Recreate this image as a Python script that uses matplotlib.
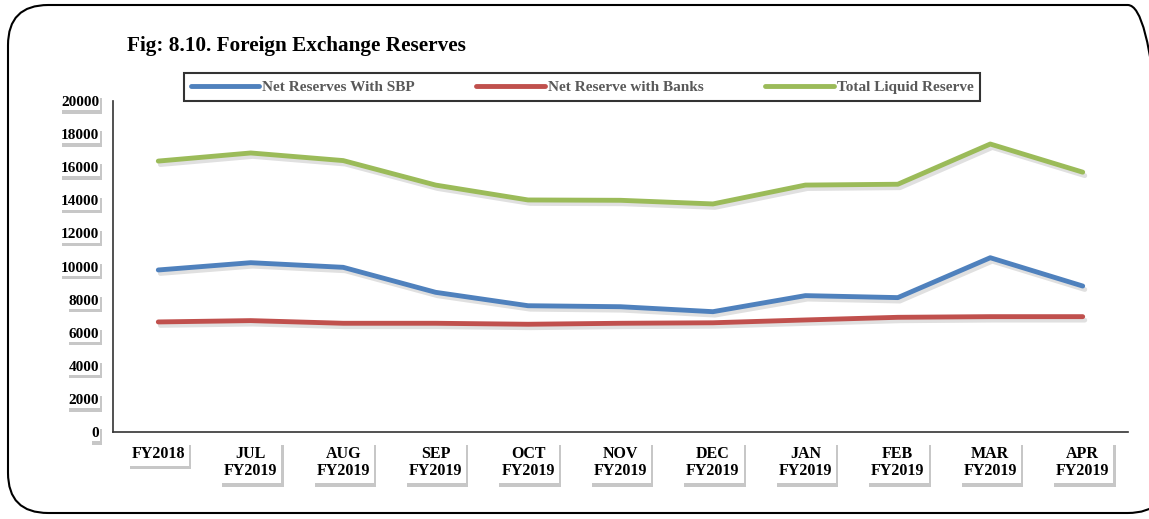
import matplotlib.pyplot as plt
import matplotlib.patheffects as pe
from matplotlib.patches import FancyBboxPatch

# Data (USD million)
months = ['FY2018', 'JUL\nFY2019', 'AUG\nFY2019', 'SEP\nFY2019', 'OCT\nFY2019', 'NOV\nFY2019',
          'DEC\nFY2019', 'JAN\nFY2019', 'FEB\nFY2019', 'MAR\nFY2019', 'APR\nFY2019']
net_sbp = [9790, 10230, 9950, 8440, 7630, 7570, 7270, 8240, 8120, 10530, 8820]
net_banks = [6650, 6730, 6570, 6570, 6510, 6570, 6600, 6770, 6930, 6970, 6970]
total_liquid = [16370, 16860, 16400, 14920, 14020, 14000, 13780, 14920, 14970, 17400, 15700]

plt.rcParams['font.family'] = ['Liberation Serif', 'DejaVu Serif']

fig = plt.figure(figsize=(11.49, 5.19), dpi=100)

# rounded outer frame
frame = FancyBboxPatch((8 / 1149, 6 / 519), 1160 / 1149, 508 / 519,
                       boxstyle='round,pad=0,rounding_size=0.035',
                       transform=fig.transFigure, fill=False, edgecolor='black',
                       linewidth=1.5, mutation_aspect=1149 / 519)
fig.patches.append(frame)

ax = fig.add_axes([113 / 1149, 1 - 432 / 519, (1128 - 113) / 1149, (432 - 101) / 519])

x = range(len(months))
shadow = [pe.SimpleLineShadow(offset=(1.5, -2.5), shadow_color='black', alpha=0.12), pe.Normal()]
ax.plot(x, net_sbp, color='#4f81bd', lw=3.5, solid_capstyle='round', label='Net Reserves With SBP',
        path_effects=shadow)
ax.plot(x, net_banks, color='#c0504d', lw=3.5, solid_capstyle='round', label='Net Reserve with Banks',
        path_effects=shadow)
ax.plot(x, total_liquid, color='#9bbb59', lw=3.5, solid_capstyle='round', label='Total Liquid Reserve',
        path_effects=shadow)

ax.set_xlim(-0.49, 10.49)
ax.set_ylim(0, 20000)
ax.set_yticks(range(0, 20001, 2000))
ax.set_xticks(list(x))
ax.set_xticklabels(months, fontsize=11.5, fontweight='bold', linespacing=1.1)
ax.tick_params(axis='both', length=0)
ax.tick_params(axis='x', pad=10)
ax.tick_params(axis='y', pad=10)

box_shadow = [pe.withSimplePatchShadow(offset=(1.5, -2.5), shadow_rgbFace='black', alpha=0.22)]
for lab in ax.get_yticklabels():
    lab.set_fontsize(11)
    lab.set_fontweight('bold')
    lab.set_bbox(dict(boxstyle='square,pad=0.08', facecolor='white', edgecolor='none'))
    lab.get_bbox_patch().set_path_effects(box_shadow)
for lab in ax.get_xticklabels():
    lab.set_bbox(dict(boxstyle='square,pad=0.25', facecolor='white', edgecolor='none'))
    lab.get_bbox_patch().set_path_effects(box_shadow)

for side in ['top', 'right']:
    ax.spines[side].set_visible(False)
ax.spines['left'].set_color('#333333')
ax.spines['bottom'].set_color('#333333')
ax.spines['left'].set_linewidth(1.2)
ax.spines['bottom'].set_linewidth(1.2)

fig.text(127 / 1149, 1 - 46 / 519, 'Fig: 8.10. Foreign Exchange Reserves', fontsize=15.3,
         fontweight='bold', va='center', ha='left')

leg = fig.legend(loc='center', bbox_to_anchor=(582 / 1149, 1 - 87 / 519), ncol=3,
                 frameon=True, fancybox=False, edgecolor='black', handlelength=4.5,
                 columnspacing=4.0, handletextpad=0.2, borderpad=0.45, borderaxespad=0,
                 prop={'weight': 'bold', 'size': 11})
leg.get_frame().set_linewidth(1.5)
for t in leg.get_texts():
    t.set_color('#595959')
for h in leg.legend_handles:
    h.set_path_effects([])
    h.set_solid_capstyle('round')

fig.savefig('out.png', dpi=100)
